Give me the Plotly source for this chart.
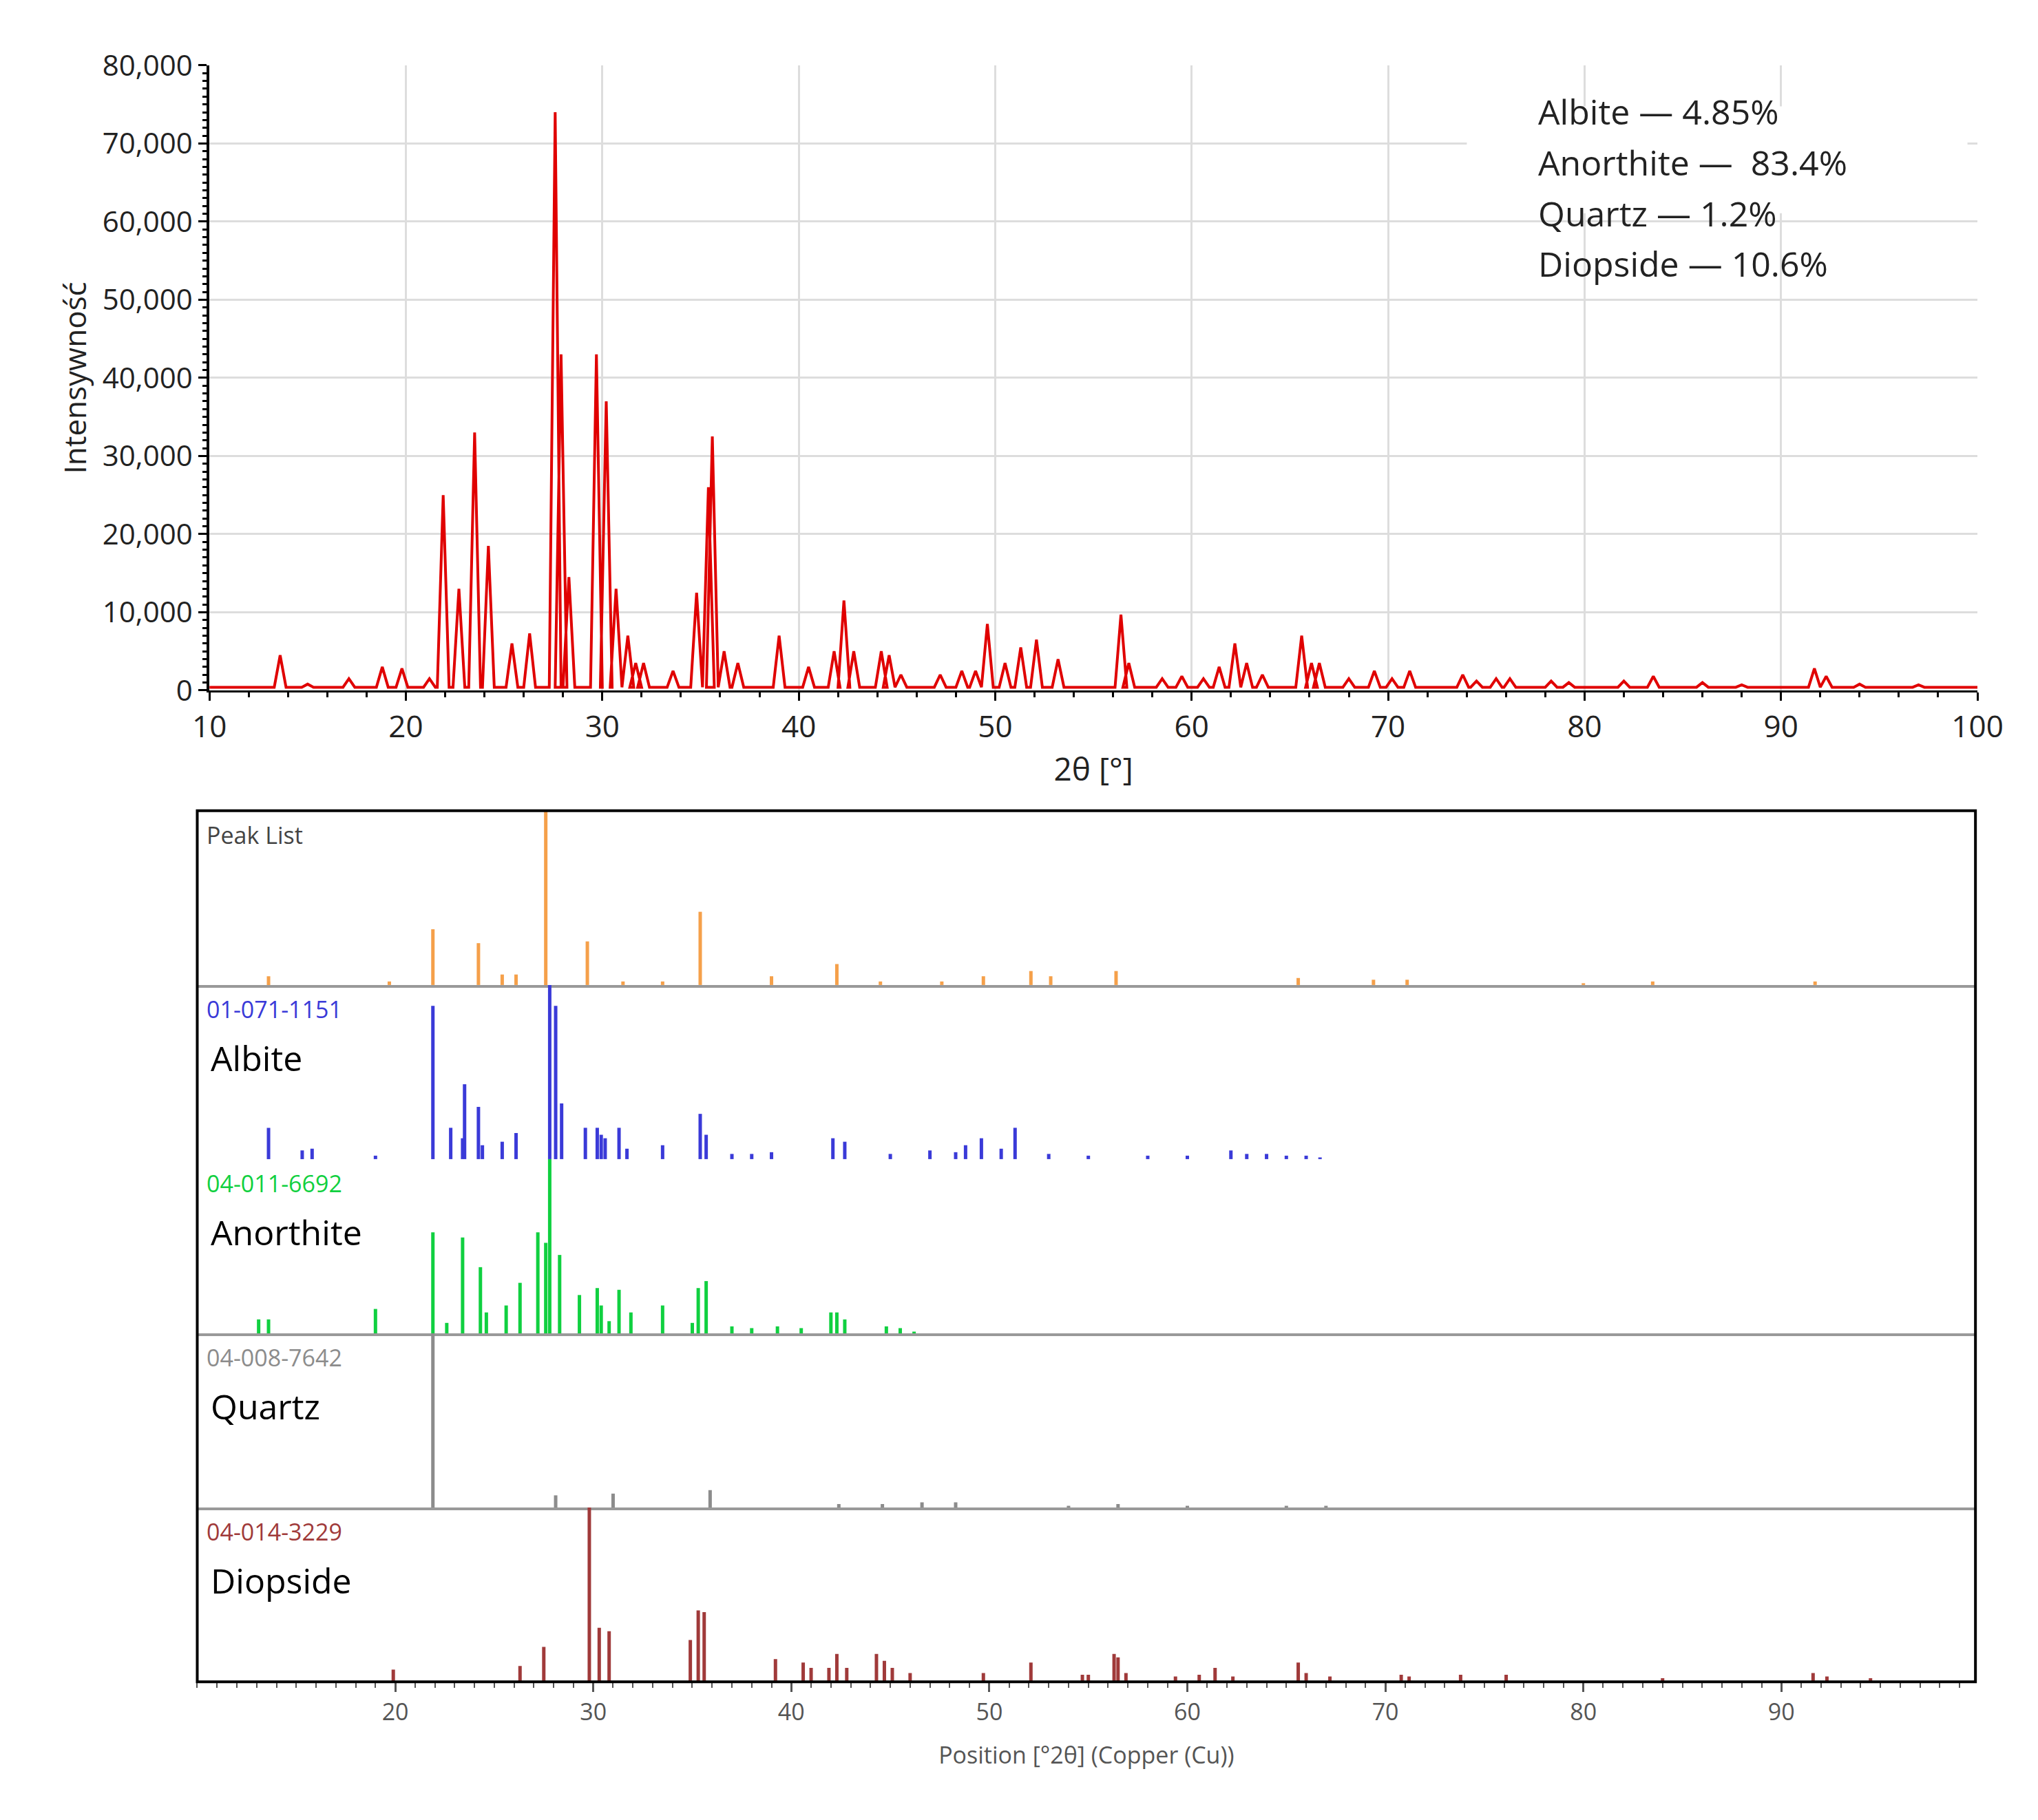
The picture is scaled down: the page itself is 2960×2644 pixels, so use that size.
import plotly.graph_objects as go

# measured pattern: peak positions (2theta) and intensities
peak_pos = [13.6, 15.0, 17.1, 18.8, 19.8, 21.2, 21.9, 22.7, 23.5, 24.2, 25.4, 26.3,
            27.6, 27.9, 28.3, 29.7, 30.2, 30.7, 31.3, 31.7, 32.1, 33.6, 34.8, 35.4,
            35.6, 36.2, 36.9, 39.0, 40.5, 41.8, 42.3, 42.8, 44.2, 44.6, 45.2, 47.2,
            48.3, 49.0, 49.6, 50.5, 51.3, 52.1, 53.2, 56.4, 56.8, 58.5, 59.5, 60.6,
            61.4, 62.2, 62.8, 63.6, 65.6, 66.1, 66.5, 68.0, 69.3, 70.2, 71.1, 73.8,
            74.5, 75.5, 76.2, 78.3, 79.2, 82.0, 83.5, 86.0, 88.0, 91.7, 92.3, 94.0, 97.0]
peak_int = [4500, 800, 1500, 3000, 2800, 1500, 25000, 13000, 33000, 18500, 6000, 7300,
            74000, 43000, 14500, 43000, 37000, 13000, 7000, 3500, 3500, 2500, 12500, 26000,
            32500, 5000, 3500, 7000, 3000, 5000, 11500, 5000, 5000, 4500, 2000, 2000,
            2500, 2500, 8500, 3500, 5500, 6500, 4000, 9700, 3500, 1500, 1800, 1500,
            3000, 6000, 3500, 2000, 7000, 3500, 3500, 1500, 2500, 1500, 2500, 2000,
            1200, 1500, 1500, 1200, 1000, 1200, 1800, 1000, 700, 2800, 1800, 800, 700]
baseline = 400

# reference stick patterns (position, relative intensity)
peaklist_pos = [13.6, 19.7, 21.9, 24.2, 25.4, 26.1, 27.6, 29.7, 31.5, 33.5, 35.4, 39.0, 42.3,
                44.5, 47.6, 49.7, 52.1, 53.1, 56.4, 65.6, 69.4, 71.1, 80.0, 83.5, 91.7]
peaklist_rel = [0.05, 0.02, 0.32, 0.24, 0.06, 0.06, 1.0, 0.25, 0.02, 0.02, 0.42, 0.05, 0.12,
                0.02, 0.02, 0.05, 0.08, 0.05, 0.08, 0.04, 0.03, 0.03, 0.01, 0.02, 0.02]
albite_pos = [13.6, 15.3, 15.8, 19.0, 21.9, 22.8, 23.4, 23.5, 24.2, 24.4, 25.4, 26.1, 27.8,
              28.1, 28.4, 29.6, 30.2, 30.4, 30.6, 31.3, 31.7, 33.5, 35.4, 35.7, 37.0, 38.0,
              39.0, 42.1, 42.7, 45.0, 47.0, 48.3, 48.8, 49.6, 50.6, 51.3, 53.0, 55.0, 58.0,
              60.0, 62.2, 63.0, 64.0, 65.0, 66.0, 66.7]
albite_rel = [0.18, 0.05, 0.06, 0.02, 0.88, 0.18, 0.12, 0.43, 0.3, 0.08, 0.1, 0.15, 1.0,
              0.88, 0.32, 0.18, 0.18, 0.14, 0.12, 0.18, 0.06, 0.08, 0.26, 0.14, 0.03, 0.03,
              0.04, 0.12, 0.1, 0.03, 0.05, 0.04, 0.08, 0.12, 0.06, 0.18, 0.03, 0.02, 0.02,
              0.02, 0.05, 0.03, 0.03, 0.02, 0.02, 0.01]
anorthite_pos = [13.1, 13.6, 19.0, 21.9, 22.6, 23.4, 24.3, 24.6, 25.6, 26.3, 27.2, 27.6,
                 27.8, 28.3, 29.3, 30.2, 30.4, 30.8, 31.3, 31.9, 33.5, 35.0, 35.3, 35.7,
                 37.0, 38.0, 39.3, 40.5, 42.0, 42.3, 42.7, 44.8, 45.5, 46.2]
anorthite_rel = [0.08, 0.08, 0.14, 0.58, 0.06, 0.55, 0.38, 0.12, 0.16, 0.29, 0.58, 0.52,
                 1.0, 0.45, 0.22, 0.26, 0.16, 0.07, 0.25, 0.12, 0.16, 0.06, 0.26, 0.3,
                 0.04, 0.03, 0.04, 0.03, 0.12, 0.12, 0.08, 0.04, 0.03, 0.01]
quartz_pos = [21.9, 28.1, 31.0, 35.9, 42.4, 44.6, 46.6, 48.3, 54.0, 56.5, 60.0, 65.0, 67.0]
quartz_rel = [1.0, 0.07, 0.08, 0.1, 0.02, 0.02, 0.03, 0.03, 0.01, 0.02, 0.01, 0.01, 0.01]
diopside_pos = [19.9, 26.3, 27.5, 29.8, 30.3, 30.8, 34.9, 35.3, 35.6, 39.2, 40.6, 41.0, 41.9,
                42.3, 42.8, 44.3, 44.7, 45.1, 46.0, 49.7, 52.1, 54.7, 55.0, 56.3, 56.5, 56.9,
                59.4, 60.6, 61.4, 62.3, 65.6, 66.0, 67.2, 70.8, 71.2, 73.8, 76.1, 84.0, 91.6,
                92.3, 94.5]
diopside_rel = [0.07, 0.09, 0.2, 1.0, 0.31, 0.29, 0.24, 0.41, 0.4, 0.13, 0.11, 0.08, 0.08,
                0.16, 0.08, 0.16, 0.12, 0.08, 0.05, 0.05, 0.11, 0.04, 0.04, 0.16, 0.14, 0.05,
                0.03, 0.04, 0.08, 0.03, 0.11, 0.05, 0.03, 0.04, 0.03, 0.04, 0.04, 0.02, 0.05,
                0.03, 0.02]

phases = [
    ("", "Peak List", peaklist_pos, peaklist_rel, "#F5A04A"),
    ("01-071-1151", "Albite", albite_pos, albite_rel, "#3A3AD8"),
    ("04-011-6692", "Anorthite", anorthite_pos, anorthite_rel, "#10D040"),
    ("04-008-7642", "Quartz", quartz_pos, quartz_rel, "#8C8C8C"),
    ("04-014-3229", "Diopside", diopside_pos, diopside_rel, "#A03A3A"),
]
fractions = ["Albite — 4.85%", "Anorthite —  83.4%", "Quartz — 1.2%", "Diopside — 10.6%"]

FONT = "Open Sans, DejaVu Sans, sans-serif"
fig = go.Figure()

# measured curve
cx, cy = [10.0], [baseline]
for p, h in zip(peak_pos, peak_int):
    cx += [p - 0.3, p, p + 0.3]
    cy += [baseline, h, baseline]
cx.append(100.0)
cy.append(baseline)
fig.add_trace(go.Scatter(x=cx, y=cy, mode="lines", line=dict(color="#E00000", width=4),
                         xaxis="x", yaxis="y", showlegend=False))

# stick panels
top, bottom = 0.5594, 0.0703
row_h = (top - bottom) / 5
layout_axes = {}
for i, (code, name, pos, rel, col) in enumerate(phases):
    n = i + 2
    sx, sy = [], []
    for p, r in zip(pos, rel):
        sx += [p, p, None]
        sy += [0, r, None]
    fig.add_trace(go.Scatter(x=sx, y=sy, mode="lines", line=dict(color=col, width=5),
                             xaxis=f"x{n}", yaxis=f"y{n}", showlegend=False, cliponaxis=False))
    y1 = top - i * row_h
    y0 = y1 - row_h
    layout_axes[f"yaxis{n}"] = dict(domain=[y0, y1], range=[0, 1.0], visible=False,
                                    anchor=f"x{n}")
    last = i == 4
    layout_axes[f"xaxis{n}"] = dict(
        domain=[0.0875, 0.979], range=[10, 99.8], anchor=f"y{n}",
        showgrid=False, zeroline=False, showticklabels=last,
        showline=True, linecolor="#999999" if not last else "black", linewidth=4 if not last else 0,
        ticks="outside" if last else "", tickvals=list(range(20, 100, 10)) if last else None,
        ticklen=14, tickwidth=3, tickcolor="#555555",
        minor=dict(ticks="outside", dtick=1, ticklen=8, tickcolor="#555555", tickwidth=2) if last else None,
        tickfont=dict(size=34, color="#555555", family=FONT),
        title=dict(text="Position [°2θ] (Copper (Cu))", font=dict(size=34, color="#555555", family=FONT),
                   standoff=30) if last else None,
    )
    if code:
        fig.add_annotation(xref="paper", yref="paper", x=0.0915, y=y1 - 0.004, text=code,
                           showarrow=False, xanchor="left", yanchor="top",
                           font=dict(size=34, color=col, family=FONT))
        fig.add_annotation(xref="paper", yref="paper", x=0.0935, y=y1 - 0.027, text=name,
                           showarrow=False, xanchor="left", yanchor="top",
                           font=dict(size=50, color="black", family=FONT))
    else:
        fig.add_annotation(xref="paper", yref="paper", x=0.0915, y=y1 - 0.004, text=name,
                           showarrow=False, xanchor="left", yanchor="top",
                           font=dict(size=34, color="#444444", family=FONT))

# black frame around stick panels
fig.add_shape(type="rect", xref="paper", yref="paper", x0=0.0875, x1=0.979, y0=bottom, y1=top,
              line=dict(color="black", width=4))

# composition text box
fig.add_shape(type="rect", xref="paper", yref="paper", x0=0.724, x1=0.975, y0=0.895, y1=0.955,
              fillcolor="white", line=dict(width=0), layer="above")
for k, txt in enumerate(fractions):
    fig.add_annotation(xref="paper", yref="paper", x=0.759, y=0.952 - k * 0.0285,
                       xanchor="left", yanchor="middle", text=txt, showarrow=False,
                       font=dict(size=50, color="#222222", family=FONT))

fig.update_layout(
    width=2960, height=2644, margin=dict(l=0, r=0, t=0, b=0),
    paper_bgcolor="white", plot_bgcolor="white",
    font=dict(family=FONT),
    xaxis=dict(domain=[0.0936, 0.980], range=[10, 100], anchor="y", dtick=10,
               showgrid=True, gridcolor="#DDDDDD", gridwidth=3, zeroline=False,
               showline=True, linecolor="black", linewidth=3,
               ticks="outside", ticklen=12, tickwidth=3, tickcolor="black",
               minor=dict(ticks="outside", dtick=2, ticklen=7, tickcolor="black"),
               tickfont=dict(size=44, color="#222222"),
               title=dict(text="2θ [°]", font=dict(size=46, color="#222222"), standoff=20)),
    yaxis=dict(domain=[0.627, 0.978], range=[0, 80000], anchor="x", dtick=10000,
               tickformat=",", showgrid=True, gridcolor="#DDDDDD", gridwidth=3, zeroline=False,
               showline=True, linecolor="black", linewidth=4,
               ticks="outside", ticklen=12, tickwidth=3, tickcolor="black",
               minor=dict(ticks="outside", dtick=1000, ticklen=6, tickcolor="black"),
               tickfont=dict(size=42, color="#222222"),
               title=dict(text="Intensywność", font=dict(size=44, color="#222222"), standoff=10)),
    **layout_axes,
)
fig.write_html("out.html")
